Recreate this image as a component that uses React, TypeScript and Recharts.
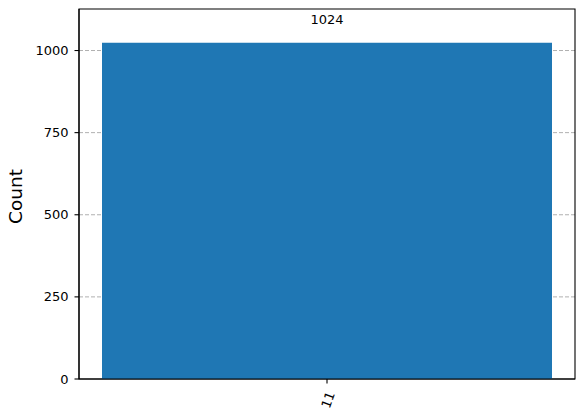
import React from 'react';
import { BarChart, Bar, XAxis, YAxis, CartesianGrid, LabelList, ReferenceArea } from 'recharts';

const categories = ['11'];
const counts = [1024];
const yTicks = [0, 250, 500, 750, 1000];
const yMax = 1126.4;

const data = categories.map((c, i) => ({ state: c, count: counts[i] }));

const FONT = 'DejaVu Sans, sans-serif';

const XTick = (props: any) => {
  const { x, payload } = props;
  const cx = x + 1;
  const cy = 400;
  return (
    <text
      x={cx}
      y={cy}
      textAnchor="middle"
      dominantBaseline="central"
      transform={`rotate(-70 ${cx} ${cy})`}
      fontFamily={FONT}
      fontSize={13}
      fill="#000"
    >
      {payload.value}
    </text>
  );
};

const YLabel = () => (
  <text
    x={21.5}
    y={196.5}
    transform="rotate(-90 21.5 196.5)"
    textAnchor="middle"
    fontFamily={FONT}
    fontSize={18.5}
    fill="#000"
  >
    Count
  </text>
);

export default function App() {
  return (
    <div style={{ position: 'absolute', left: 0, top: 0, width: 585, height: 420, background: '#fff' }}>
      <BarChart
        width={585}
        height={420}
        data={data}
        margin={{ top: 9, right: 10, bottom: 0, left: 0 }}
        barCategoryGap={23}
      >
        <CartesianGrid
          horizontal
          vertical={false}
          stroke="#b0b0b0"
          strokeDasharray="4 2"
          horizontalValues={[250, 500, 750, 1000]}
        />
        <XAxis
          dataKey="state"
          height={41}
          axisLine={{ stroke: '#000', strokeWidth: 1.1 }}
          tickLine={{ stroke: '#000', strokeWidth: 1.1 }}
          tickSize={4.5}
          tick={<XTick />}
          interval={0}
        />
        <YAxis
          width={79}
          domain={[0, yMax]}
          ticks={yTicks}
          type="number"
          allowDataOverflow
          axisLine={{ stroke: '#000', strokeWidth: 1.1 }}
          tickLine={{ stroke: '#000', strokeWidth: 1.1 }}
          tickSize={4.5}
          tickMargin={6}
          tick={{ fill: '#000', fontSize: 13, fontFamily: FONT }}
          label={<YLabel />}
        />
        <Bar dataKey="count" fill="#1f77b4" isAnimationActive={false}>
          <LabelList
            dataKey="count"
            position="top"
            offset={18.5}
            fill="#000"
            fontSize={13}
            fontFamily={FONT}
          />
        </Bar>
        <ReferenceArea y1={0} y2={yMax} fill="none" stroke="#000" strokeWidth={1.1} ifOverflow="extendDomain" />
      </BarChart>
    </div>
  );
}
